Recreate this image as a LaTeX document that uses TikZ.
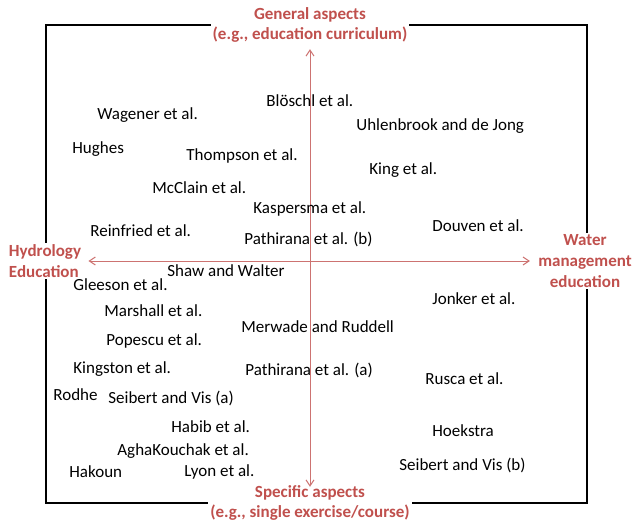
\documentclass[tikz,border=0pt]{standalone}
\usepackage{fontspec}
\setmainfont{Carlito}
\usetikzlibrary{arrows.meta, positioning}
\definecolor{axisred}{RGB}{192,80,77}
\tikzset{
	study/.style={anchor=west, inner sep=0pt, font=\fontsize{8.5}{10}\selectfont},
	axislabel/.style={fill=white, inner sep=1pt, align=center, text=axisred, font=\fontsize{8.5}{10.4}\selectfont\bfseries},
	axisarrow/.style={axisred!80, line width=0.5pt, {Straight Barb[length=3pt,width=4pt]}-{Straight Barb[length=3pt,width=4pt]}}
}

\begin{document}
\begin{tikzpicture}[x=0.5pt, y=-0.5pt]
	\useasboundingbox (0,0) rectangle (636,524);
	\draw[line width=0.8pt] (46,25) rectangle (587,503);

	% axis labels
	\node[axislabel] (general) at (310,25) {General aspects\\(e.g., education curriculum)};
	\node[axislabel] (specific) at (310,503) {Specific aspects\\(e.g., single exercise/course)};
	\node[axislabel, align=left] (hydro) at (45,261) {Hydrology\\Education};
	\node[axislabel] (water) at (585,261) {Water\\management\\education};

	\draw[axisarrow] ([yshift=-2pt]general.south) -- ([yshift=-2pt]specific.north);
	\draw[axisarrow] ([xshift=2.5pt]hydro.east) -- ([xshift=-3pt]water.west);

	% studies
	\node[study] (wagener) at (97,115) {Wagener et al.};
	\node[study] (bloeschl) at (266,101) {Blöschl et al.};
	\node[study] (uhlenbrook) at (356,126) {Uhlenbrook and de Jong};
	\node[study] (hughes) at (72,149) {Hughes};
	\node[study] (thompson) at (186,156) {Thompson et al.};
	\node[study] (king) at (369,170) {King et al.};
	\node[study] (mcclain) at (152,188) {McClain et al.};
	\node[study] (kaspersma) at (253,209) {Kaspersma et al.};
	\node[study] (douven) at (432,226) {Douven et al.};
	\node[study] (reinfried) at (90,231) {Reinfried et al.};
	\node[study] (pathiranab) at (244,239) {Pathirana et al. (b)};
	\node[study] (shaw) at (167,271) {Shaw and Walter};
	\node[study] (gleeson) at (73,285) {Gleeson et al.};
	\node[study] (jonker) at (432,299) {Jonker et al.};
	\node[study] (marshall) at (104,311) {Marshall et al.};
	\node[study] (merwade) at (241,327) {Merwade and Ruddell};
	\node[study] (popescu) at (106,341) {Popescu et al.};
	\node[study] (kingston) at (73,369) {Kingston et al.};
	\node[study] (pathiranaa) at (245,370) {Pathirana et al. (a)};
	\node[study] (rusca) at (425,379) {Rusca et al.};
	\node[study] (rodhe) at (53,395) {Rodhe};
	\node[study] (seiberta) at (108,398) {Seibert and Vis (a)};
	\node[study] (habib) at (171,427) {Habib et al.};
	\node[study] (hoekstra) at (432,431) {Hoekstra};
	\node[study] (aghakouchak) at (117,451) {AghaKouchak et al.};
	\node[study] (hakoun) at (69,472) {Hakoun};
	\node[study] (lyon) at (184,472) {Lyon et al.};
	\node[study] (seibertb) at (399,465) {Seibert and Vis (b)};
\end{tikzpicture}
\end{document}
